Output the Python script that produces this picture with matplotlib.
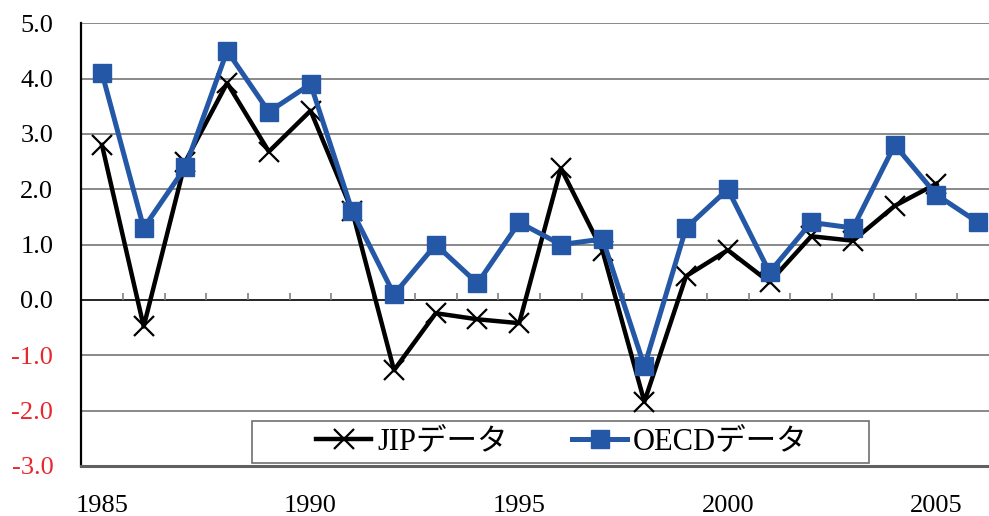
import numpy as np
import matplotlib.pyplot as plt
from matplotlib.patches import Rectangle

years = np.arange(1985, 2007)
jip = [2.8, -0.48, 2.5, 3.92, 2.68, 3.42, 1.6, -1.27, -0.24, -0.35, -0.42,
       2.38, 0.88, -1.84, 0.43, 0.9, 0.32, 1.15, 1.07, 1.7, 2.1]
oecd = [4.1, 1.3, 2.4, 4.5, 3.4, 3.9, 1.6, 0.1, 1.0, 0.3, 1.4,
        1.0, 1.1, -1.2, 1.3, 2.0, 0.5, 1.4, 1.3, 2.8, 1.9, 1.4]
y_ticks = np.arange(-3, 6)
x_labels = [1985, 1990, 1995, 2000, 2005]

serif = ['Liberation Serif', 'Noto Sans CJK JP']
blue = '#2457a6'

fig = plt.figure(figsize=(9.89, 5.16), dpi=100)
ax = fig.add_axes([0.082, 0.097, 0.918, 0.858])

# horizontal grid, zero line drawn separately in black
for v in y_ticks[1:]:
    if v != 0:
        ax.axhline(v, color='#808080', lw=1.3, zorder=1)
ax.axhline(0, color='black', lw=1.2, zorder=1)
ax.vlines(years[:-1] + 0.5, 0, 0.13, color='#808080', lw=1.2, zorder=1)

ax.plot(years[:len(jip)], jip, color='black', lw=3.2, marker='x',
        markersize=15, markeredgewidth=1.6, label='JIPデータ', zorder=3)
ax.plot(years, oecd, color=blue, lw=3.6, marker='s', markersize=12.5,
        label='OECDデータ', zorder=4)

ax.set_xlim(1984.5, 2006.26)
ax.set_ylim(-3, 5)

ax.set_yticks(y_ticks)
ax.set_yticklabels([f'{v:.1f}' for v in y_ticks], family=serif, fontsize=19)
for lbl, v in zip(ax.get_yticklabels(), y_ticks):
    if v < 0:
        lbl.set_color('#e8262b')
ax.tick_params(axis='y', length=0, pad=20)

ax.set_xticks(x_labels)
ax.set_xticklabels([str(v) for v in x_labels], family=serif, fontsize=19)
ax.tick_params(axis='x', length=0, pad=21)

for side in ['top', 'right']:
    ax.spines[side].set_visible(False)
ax.spines['left'].set_color('black')
ax.spines['left'].set_linewidth(1.6)
ax.spines['bottom'].set_color('#606060')
ax.spines['bottom'].set_linewidth(2.2)

# legend box
ax.add_patch(Rectangle((0.1883, 0.0075), 0.6795, 0.0942, transform=ax.transAxes,
                       facecolor='white', edgecolor='#707070', lw=1.2, zorder=5))
ax.legend(loc='center', bbox_to_anchor=(0.5297, 0.0546), ncol=2,
          prop={'family': serif, 'size': 22}, frameon=False,
          handlelength=1.8, handletextpad=0.2, columnspacing=2.1,
          borderaxespad=0, borderpad=0).set_zorder(6)

fig.savefig('out.png', dpi=100)
